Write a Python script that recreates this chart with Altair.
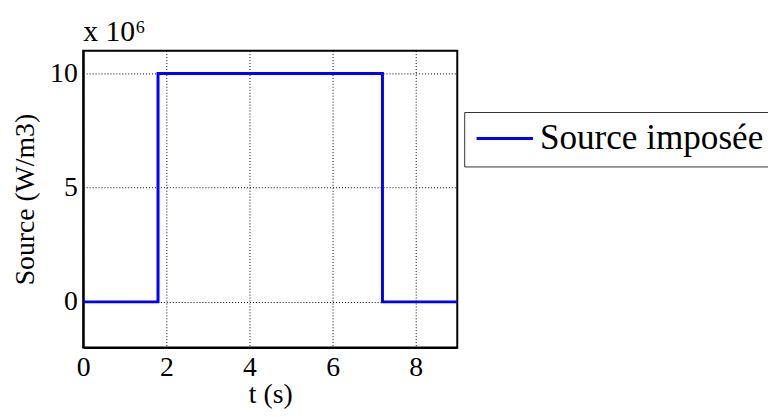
import altair as alt
import pandas as pd

# Data (source in units of 10^6 W/m3)
t_values = [0.0, 1.8, 1.8, 7.2, 7.2, 9.0]
source_values = [0, 0, 10, 10, 0, 0]
series_name = "Source imposée"
x_ticks = [0, 2, 4, 6, 8]
y_ticks = [0, 5, 10]

df = pd.DataFrame({
    "t": t_values,
    "s": source_values,
    "order": list(range(len(t_values))),
    "serie": [series_name] * len(t_values),
})

FONT = "Liberation Serif"

line = alt.Chart(df).mark_line(strokeWidth=3, clip=True).encode(
    x=alt.X("t:Q", scale=alt.Scale(domain=[0, 9], nice=False, zero=False),
            axis=alt.Axis(values=x_ticks, title="t (s)", format="d",
                          labelPadding=6, titlePadding=0, labelFlush=False)),
    y=alt.Y("s:Q", scale=alt.Scale(domain=[-2, 11], nice=False, zero=False),
            axis=alt.Axis(values=y_ticks, title="Source (W/m3)", format="d",
                          labelPadding=6, titlePadding=10, labelFlush=False)),
    order="order:Q",
    color=alt.Color("serie:N", scale=alt.Scale(range=["#0000ff"]),
                    legend=alt.Legend(title=None, orient="none", legendX=385, legendY=62,
                                      symbolType="M-1,0H3", symbolSize=812,
                                      symbolStrokeWidth=3, labelFontSize=35.5,
                                      labelFont=FONT, labelColor="black",
                                      labelOffset=32, labelLimit=0,
                                      padding=9, strokeColor="#333333",
                                      fillColor="white")),
)

chart = line.properties(
    width=378,
    height=300,
    background="white",
    title=alt.TitleParams("x 10⁶", anchor="start", frame="group", font=FONT, fontSize=30,
                          fontWeight="normal", color="black", offset=4),
    autosize=alt.AutoSizeParams(type="none"),
    padding={"left": 76, "top": 41, "right": 314, "bottom": 60},
).configure_view(
    stroke="black", strokeWidth=2
).configure_axis(
    domainColor="black", domainWidth=2,
    ticks=False,
    grid=True, gridColor="black", gridOpacity=1, gridWidth=1, gridDash=[1, 2],
    labelFont=FONT, labelFontSize=28, labelColor="black",
    titleFont=FONT, titleFontSize=28, titleColor="black", titleFontWeight="normal",
)

chart.save("out.html", embed_options={"renderer": "svg", "actions": False})
